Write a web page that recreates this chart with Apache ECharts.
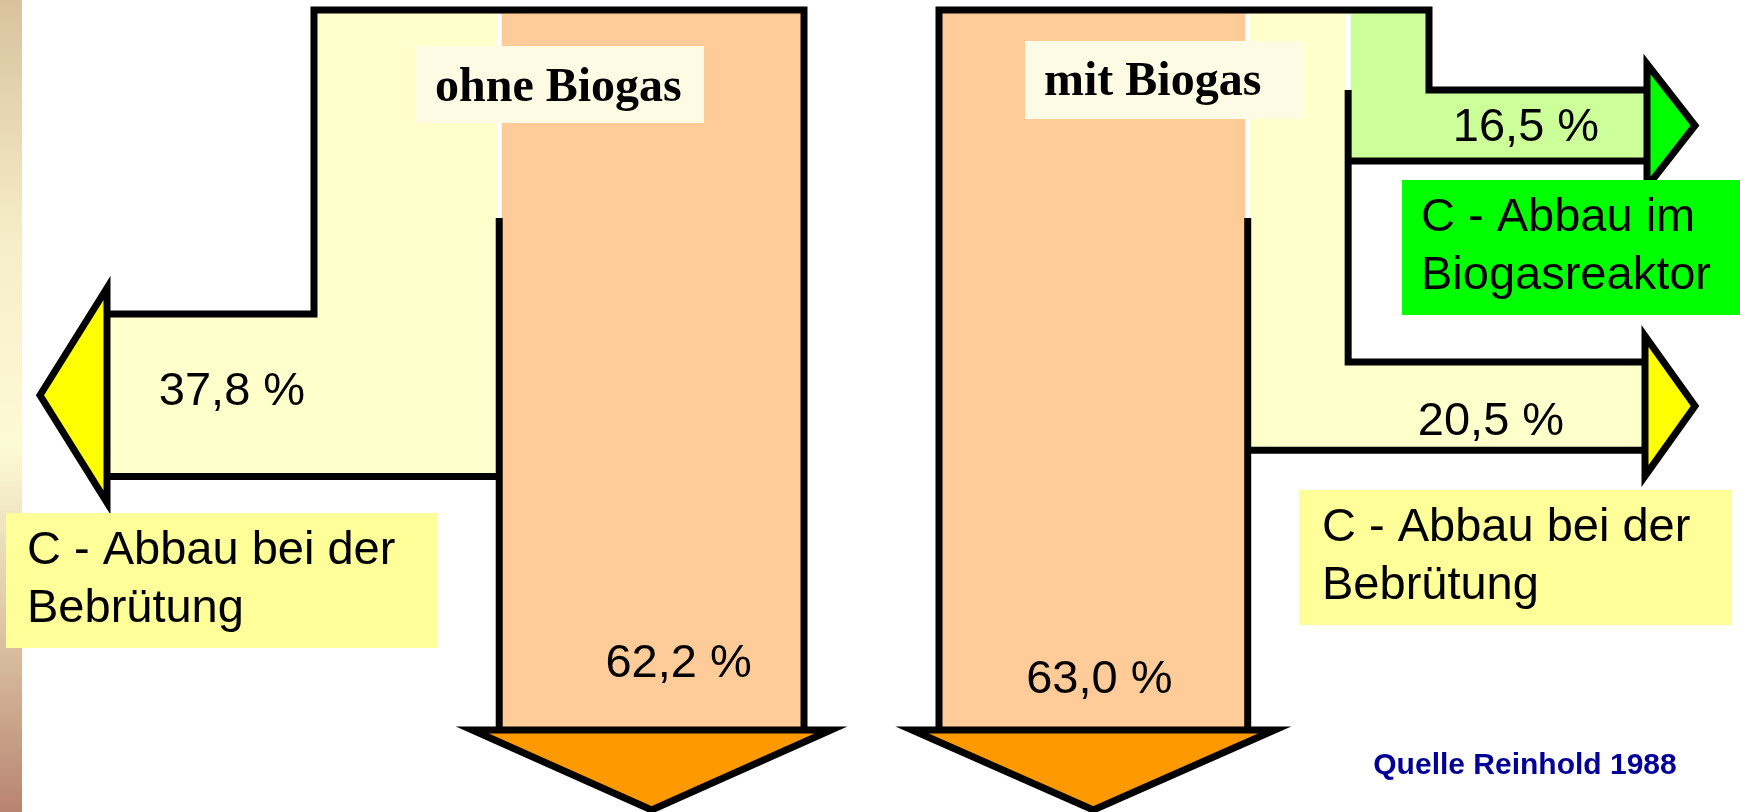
<!DOCTYPE html>
<html>
<head>
<meta charset="utf-8">
<script src="https://cdn.jsdelivr.net/npm/echarts@6/dist/echarts.min.js"></script>
<style>
  html, body { margin: 0; padding: 0; background: #fff; }
  #content { width: 1740px; height: 812px; }
</style>
</head>
<body>
<div id="content"></div>
<script>
// C-Abbau in % (Quelle Reinhold 1988)
const diagrams = ['ohne Biogas', 'mit Biogas']
const flowNames = ['Bebrütung', 'Rest', 'Biogasreaktor']
const ohneBiogas = [37.8, 62.2, 0]
const mitBiogas = [20.5, 63.0, 16.5]
const boxLabels = ['C - Abbau bei der\nBebrütung', 'C - Abbau im\nBiogasreaktor']
const sourceText = 'Quelle Reinhold 1988'

// layout (axis units = pixels)
const K = 4.9      // band width per percent
const KB = 4.3     // branch thickness per percent
const TOP = 10
const BAND_END = 730
const TIP_Y = 810
const INNER = 218
const HEAD = 26
const LW = 7

const fills = ['#ffffcc', '#ffcc99', '#ccff99']
const heads = ['#ffff00', '#ff9900', '#00ff00']
const sans = '"Liberation Sans", Arial, sans-serif'
const serif = 'bold 48px "Liberation Serif", "Times New Roman", serif'

const layout = [
  {
    x0: 314, order: [0, 1],
    branch: {0: {y: 314, base: 107, tip: 40}},
    label: {0: [125, -3], 1: [27, -66]}
  },
  {
    x0: 939, order: [1, 0, 2],
    branch: {0: {y: 362, base: 1645, tip: 1695}, 2: {y: 90, base: 1647, tip: 1695}},
    label: {1: [6, -50], 0: [-154, 16], 2: [-121, 3]}
  }
]

function valuesOf(d) {
  return d === 0 ? ohneBiogas : mitBiogas
}

function edgesOf(d) {
  const vals = valuesOf(d)
  const e = [layout[d].x0]
  layout[d].order.forEach(f => e.push(e[e.length - 1] + vals[f] * K))
  return e
}

function fmt(v) {
  return v.toFixed(1).replace('.', ',') + ' %'
}

// one item per flow: [diagram, flow, value, start]
const flowData = []
layout.forEach((L, d) => {
  const vals = valuesOf(d)
  let s = 0
  L.order.forEach(f => {
    flowData.push([d, f, vals[f], s])
    s += vals[f]
  })
})

function renderFlow(params, api) {
  const d = api.value(0), f = api.value(1), v = api.value(2), s = api.value(3)
  const L = layout[d]
  const P = (x, y) => api.coord([x, y])
  const xa = L.x0 + s * K, xb = xa + v * K
  const br = L.branch[f]
  const lab = L.label[f]
  const children = []
  let lx, ly
  if (!br) {
    children.push({
      type: 'polygon',
      shape: {points: [P(xa, TOP), P(xb, TOP), P(xb, BAND_END), P(xa, BAND_END)]},
      style: {fill: fills[f]}
    })
    children.push({
      type: 'polygon',
      shape: {points: [P(xa - 27, BAND_END), P(xb + 27, BAND_END), P((xa + xb) / 2, TIP_Y)]},
      style: {fill: heads[f], stroke: '#000', lineWidth: LW, lineJoin: 'miter'}
    })
    lx = (xa + xb) / 2 + lab[0]
    ly = BAND_END + lab[1]
  } else {
    const y1 = br.y, y2 = br.y + v * KB
    let pts
    if (br.base < xa) {
      pts = [P(xa, TOP), P(xb, TOP), P(xb, y2), P(br.base, y2), P(br.base, y1), P(xa, y1)]
    } else {
      pts = [P(xa, TOP), P(xb, TOP), P(xb, y1), P(br.base, y1), P(br.base, y2), P(xa, y2)]
    }
    children.push({type: 'polygon', shape: {points: pts}, style: {fill: fills[f]}})
    children.push({
      type: 'polygon',
      shape: {points: [P(br.base, y1 - HEAD), P(br.tip, (y1 + y2) / 2), P(br.base, y2 + HEAD)]},
      style: {fill: heads[f], stroke: '#000', lineWidth: LW, lineJoin: 'miter'}
    })
    lx = br.base + lab[0]
    ly = (y1 + y2) / 2 + lab[1]
  }
  const pl = P(lx, ly)
  children.push({
    type: 'text',
    style: {text: fmt(v), x: pl[0], y: pl[1], font: '47px ' + sans, fill: '#000', align: 'center', verticalAlign: 'middle'}
  })
  return {type: 'group', children: children}
}

function renderOutline(params, api) {
  const d = api.value(0)
  const L = layout[d]
  const vals = valuesOf(d)
  const e = edgesOf(d)
  const P = (x, y) => api.coord([x, y])
  const black = {stroke: '#000', lineWidth: LW, fill: null, lineJoin: 'miter'}
  const white = {stroke: '#fff', lineWidth: 5, fill: null}
  const line = (pts, st) => ({type: 'polyline', shape: {points: pts.map(p => P(p[0], p[1]))}, style: st})
  const c = []
  if (d === 0) {
    const b = L.branch[0], y2 = b.y + vals[0] * KB
    c.push(line([[e[1], TOP + 4], [e[1], INNER]], white))
    c.push(line([[b.base, b.y], [e[0], b.y], [e[0], TOP], [e[2], TOP], [e[2], BAND_END]], black))
    c.push(line([[b.base, y2], [e[1], y2]], black))
    c.push(line([[e[1], INNER], [e[1], BAND_END]], black))
  } else {
    const g = L.branch[2], gy2 = g.y + vals[2] * KB
    const y = L.branch[0], yy2 = y.y + vals[0] * KB
    c.push(line([[e[1], TOP + 4], [e[1], INNER]], white))
    c.push(line([[e[2], TOP + 4], [e[2], g.y]], white))
    c.push(line([[e[0], BAND_END], [e[0], TOP], [e[3], TOP], [e[3], g.y], [g.base, g.y]], black))
    c.push(line([[g.base, gy2], [e[2], gy2]], black))
    c.push(line([[e[2], g.y], [e[2], y.y], [y.base, y.y]], black))
    c.push(line([[y.base, yy2], [e[1], yy2]], black))
    c.push(line([[e[1], INNER], [e[1], BAND_END]], black))
  }
  return {type: 'group', children: c}
}

function textBox(x, y, w, h, bg, text, font, color, pad, lineHeight, dy) {
  return [
    {type: 'rect', z: 100, shape: {x: x, y: y, width: w, height: h}, style: {fill: bg}},
    {type: 'text', z: 101, style: {text: text, x: x + pad, y: y + h / 2 + (dy || 0), font: font, fill: color,
      verticalAlign: 'middle', align: 'left', lineHeight: lineHeight}}
  ]
}

const content = document.getElementById('content')
const myChart = echarts.init(content)
myChart.setOption({
  animation: false,
  grid: {left: 0, right: 0, top: 0, bottom: 0},
  xAxis: {type: 'value', min: 0, max: 1740, show: false},
  yAxis: {type: 'value', min: 0, max: 812, inverse: true, show: false},
  graphic: [
    {
      type: 'rect', z: 100,
      shape: {x: 0, y: 0, width: 22, height: 812},
      style: {
        fill: new echarts.graphic.LinearGradient(0, 0, 0, 1, [
          {offset: 0, color: '#d8c29e'},
          {offset: 0.3, color: '#f6eec8'},
          {offset: 0.55, color: '#fdfad6'},
          {offset: 0.78, color: '#dcc4a4'},
          {offset: 1, color: '#b88472'}
        ])
      }
    },
    ...textBox(415, 46, 289, 77, '#fefbe5', diagrams[0], serif, '#000', 20, 56, 4),
    ...textBox(1025, 41, 278, 78, '#fefbe5', diagrams[1], serif, '#000', 19, 56, 3),
    ...textBox(6, 513, 431, 135, '#ffff99', boxLabels[0], '47px ' + sans, '#000', 21, 58),
    ...textBox(1402, 180, 338, 135, '#00ff00', boxLabels[1], '47px ' + sans, '#000', 19, 58),
    ...textBox(1299, 490, 433, 135, '#ffff99', boxLabels[0], '47px ' + sans, '#000', 23, 58),
    {
      type: 'text', z: 100,
      style: {text: sourceText, x: 1525, y: 766, font: 'bold 30px ' + sans, fill: '#000099',
        align: 'center', verticalAlign: 'middle'}
    }
  ],
  series: [
    {name: 'Fluss', type: 'custom', renderItem: renderFlow, data: flowData, z: 2},
    {name: 'Umriss', type: 'custom', renderItem: renderOutline, data: diagrams.map((n, i) => [i]), z: 3}
  ]
})
</script>
</body>
</html>
